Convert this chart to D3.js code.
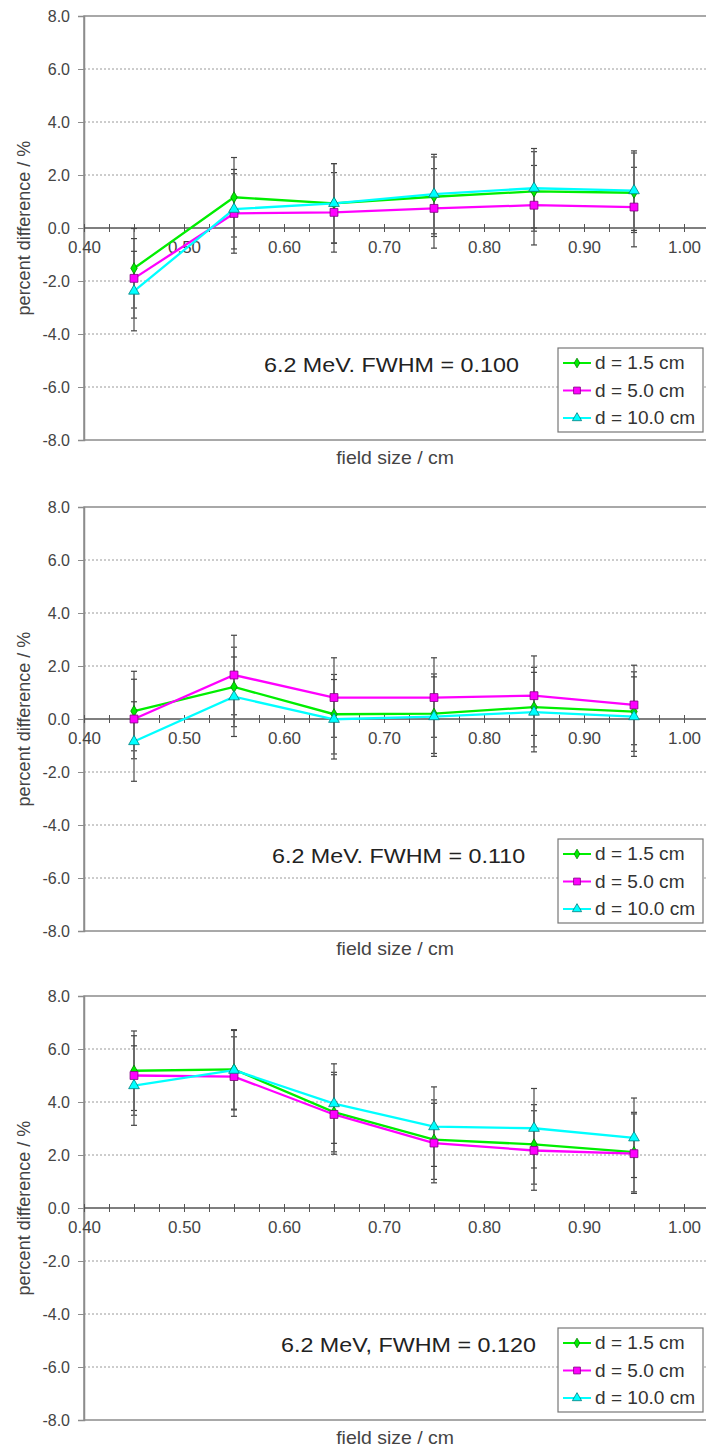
<!DOCTYPE html>
<html>
<head>
<meta charset="utf-8">
<script src="https://cdn.jsdelivr.net/npm/d3@7"></script>
<style>
  body { margin: 0; background: #fff; }
  svg { display: block; font-family: "Liberation Sans", Arial, sans-serif; }
</style>
</head>
<body>
<script>
// field sizes (cm) shared by every panel
var fieldSize = [0.45, 0.55, 0.65, 0.75, 0.85, 0.95];

var seriesNames = ["d = 1.5 cm", "d = 5.0 cm", "d = 10.0 cm"];

// panel titles
var panelTitles = ["6.2 MeV. FWHM = 0.100", "6.2 MeV. FWHM = 0.110", "6.2 MeV, FWHM = 0.120"];

// percent difference, FWHM = 0.100
var p100_d15 = [-1.52, 1.16, 0.93, 1.18, 1.38, 1.33];
var p100_d50 = [-1.90, 0.55, 0.59, 0.74, 0.86, 0.79];
var p100_d100 = [-2.38, 0.71, 0.93, 1.28, 1.50, 1.41];

// FWHM = 0.110
var p110_d15 = [0.30, 1.21, 0.18, 0.20, 0.45, 0.28];
var p110_d50 = [0.00, 1.66, 0.81, 0.81, 0.88, 0.53];
var p110_d100 = [-0.85, 0.84, -0.01, 0.09, 0.26, 0.09];

// FWHM = 0.120
var p120_d15 = [5.18, 5.23, 3.62, 2.58, 2.40, 2.11];
var p120_d50 = [5.00, 4.96, 3.53, 2.45, 2.17, 2.05];
var p120_d100 = [4.62, 5.20, 3.94, 3.07, 3.01, 2.65];

// error bar half-width (%), same for all points
var errHalf = 1.5;

var yTicks = [-8, -6, -4, -2, 0, 2, 4, 6, 8];

var panelData = [
  [p100_d15, p100_d50, p100_d100],
  [p110_d15, p110_d50, p110_d100],
  [p120_d15, p120_d50, p120_d100]
];

// layout
var panelTop = [16, 507, 996],
    panelH = 424,
    plotLeft = 84,
    plotRight = 720,
    titleX = [264, 272, 281];

var colors = ["#00ee00", "#ff00ff", "#00ffff"],
    strokes = ["#008000", "#800080", "#008080"],
    symbols = [d3.symbolDiamond, d3.symbolSquare, d3.symbolTriangle],
    symSize = [36, 62, 50];

var x = d3.scaleLinear().domain([0.40, 1.00]).range([plotLeft, 684]);

var svg = d3.select("body").append("svg")
    .attr("width", 706)
    .attr("height", 1450);

// horizontally stretched text, like the original export
function wide(sel, sx) {
  sel.each(function() {
    var t = d3.select(this),
        tx = +t.attr("x") || 0,
        ty = +t.attr("y") || 0;
    t.attr("x", null).attr("y", null)
     .attr("transform", "translate(" + tx + "," + ty + ") scale(" + sx + ",1)");
  });
}

panelData.forEach(function(series, p) {
  var top = panelTop[p];
  var y = d3.scaleLinear().domain([-8, 8]).range([top + panelH, top]);
  var g = svg.append("g").attr("class", "panel");

  // grid
  g.selectAll(".grid")
    .data(yTicks.filter(function(d) { return d !== 0 && Math.abs(d) !== 8; }))
    .enter().append("line")
      .attr("x1", plotLeft).attr("x2", plotRight)
      .attr("y1", function(d) { return y(d); })
      .attr("y2", function(d) { return y(d); })
      .attr("stroke", "#9a9a9a")
      .attr("stroke-width", 1)
      .attr("stroke-dasharray", "2,2");

  // plot border
  g.append("rect")
    .attr("x", plotLeft).attr("y", top)
    .attr("width", plotRight - plotLeft).attr("height", panelH)
    .attr("fill", "none")
    .attr("stroke", "#8c8c8c")
    .attr("stroke-width", 1.5);

  // y axis
  var yAxis = g.append("g")
    .attr("transform", "translate(" + plotLeft + ",0)")
    .call(d3.axisLeft(y).tickValues(yTicks).tickSize(6).tickPadding(8)
      .tickFormat(function(d) { return d.toFixed(1); }));
  yAxis.select(".domain").attr("stroke", "#8c8c8c").attr("stroke-width", 1.5);
  yAxis.selectAll(".tick line").attr("stroke", "#8c8c8c");
  yAxis.selectAll(".tick text")
    .attr("fill", "#444")
    .style("font-size", "16px");

  // x axis along zero
  var minor = d3.range(0.40, 1.0001, 0.025);
  var xAxis = g.append("g")
    .attr("transform", "translate(0," + y(0) + ")")
    .call(d3.axisBottom(x).tickValues(minor).tickSize(4).tickPadding(10)
      .tickFormat(function(d) {
        var k = Math.round(d * 1000);
        return k % 100 === 0 ? d.toFixed(2) : "";
      }));
  xAxis.select(".domain").remove();
  xAxis.append("line")
    .attr("x1", plotLeft).attr("x2", plotRight)
    .attr("stroke", "#555").attr("stroke-width", 1.3);
  xAxis.selectAll(".tick line").attr("y1", -4).attr("stroke", "#555");
  xAxis.selectAll(".tick text")
    .attr("fill", "#444")
    .style("font-size", "16px")
    .call(wide, 1.06);

  // axis titles
  g.append("text")
    .attr("transform", "translate(24," + (top + panelH / 2) + ") rotate(-90)")
    .attr("text-anchor", "middle")
    .attr("dy", "0.35em")
    .attr("fill", "#444")
    .style("font-size", "18px")
    .text("percent difference / %");

  g.append("text")
    .attr("x", (plotLeft + 684) / 2 + 11)
    .attr("y", top + 448)
    .attr("text-anchor", "middle")
    .attr("fill", "#444")
    .style("font-size", "18px")
    .text("field size / cm")
    .call(wide, 1.08);

  // error bars
  series.forEach(function(vals, s) {
    var eb = g.append("g").attr("class", "err");
    vals.forEach(function(v, i) {
      var cx = x(fieldSize[i]);
      eb.append("line")
        .attr("x1", cx).attr("x2", cx)
        .attr("y1", y(v - errHalf)).attr("y2", y(v + errHalf))
        .attr("stroke", "#666").attr("stroke-width", 1.4);
      [v - errHalf, v + errHalf].forEach(function(e) {
        eb.append("line")
          .attr("x1", cx - 3).attr("x2", cx + 3)
          .attr("y1", y(e)).attr("y2", y(e))
          .attr("stroke", "#444").attr("stroke-width", 1.2);
      });
    });
  });

  // lines and markers
  var line = d3.line()
    .x(function(d, i) { return x(fieldSize[i]); })
    .y(function(d) { return y(d); });

  series.forEach(function(vals, s) {
    g.append("path")
      .datum(vals)
      .attr("d", line)
      .attr("fill", "none")
      .attr("stroke", colors[s])
      .attr("stroke-width", 2.3);
  });
  series.forEach(function(vals, s) {
    g.selectAll(".m" + s)
      .data(vals)
      .enter().append("path")
        .attr("class", "m" + s)
        .attr("transform", function(d, i) { return "translate(" + x(fieldSize[i]) + "," + y(d) + ")"; })
        .attr("d", d3.symbol().type(symbols[s]).size(symSize[s]))
        .attr("fill", colors[s])
        .attr("stroke", strokes[s])
        .attr("stroke-width", 0.8);
  });

  // panel title
  g.append("text")
    .attr("x", titleX[p])
    .attr("y", top + 356)
    .attr("fill", "#222")
    .style("font-size", "21px")
    .text(panelTitles[p])
    .call(wide, 1.11);

  // legend
  var lx = 558, ly = top + 332;
  g.append("rect")
    .attr("x", lx).attr("y", ly)
    .attr("width", 145).attr("height", 84)
    .attr("fill", "#fff")
    .attr("stroke", "#777")
    .attr("stroke-width", 1.2);

  var legend = g.selectAll(".legend")
    .data(seriesNames)
    .enter().append("g")
      .attr("class", "legend")
      .attr("transform", function(d, i) { return "translate(" + lx + "," + (ly + 15 + i * 27.5) + ")"; });

  legend.append("line")
    .attr("x1", 5).attr("x2", 33)
    .attr("stroke", function(d, i) { return colors[i]; })
    .attr("stroke-width", 2);
  legend.append("path")
    .attr("transform", "translate(19,0)")
    .attr("d", function(d, i) { return d3.symbol().type(symbols[i]).size(symSize[i] * 0.75)(); })
    .attr("fill", function(d, i) { return colors[i]; })
    .attr("stroke", function(d, i) { return strokes[i]; })
    .attr("stroke-width", 0.8);
  legend.append("text")
    .attr("x", 37)
    .attr("y", 0)
    .attr("dy", "0.36em")
    .attr("fill", "#333")
    .style("font-size", "18px")
    .text(function(d) { return d; })
    .call(wide, 1.06);
});
</script>
</body>
</html>
